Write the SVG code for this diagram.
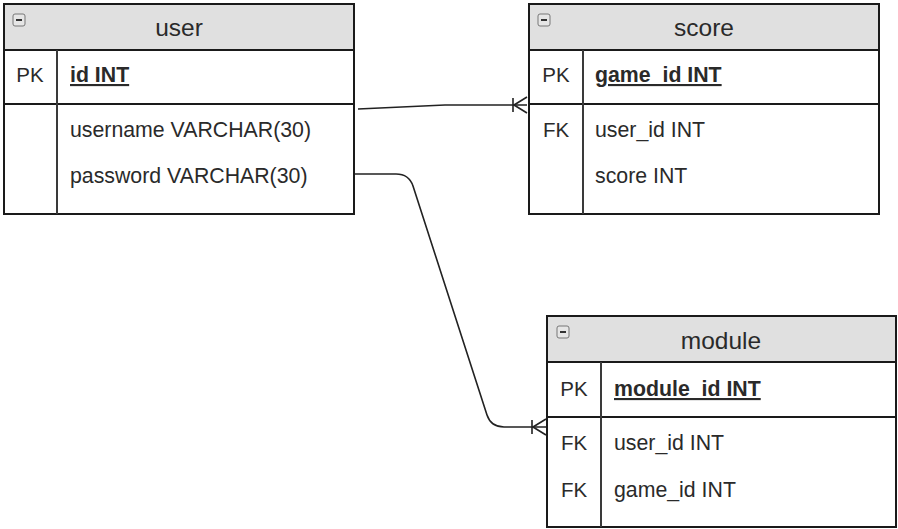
<svg xmlns="http://www.w3.org/2000/svg" width="898" height="529" viewBox="0 0 898 529">
  <style>
    .box { fill: #ffffff; stroke: #1a1a1a; stroke-width: 2; }
    .head { fill: #e0e0e0; stroke: #1a1a1a; stroke-width: 2; }
    .sep { stroke: #1a1a1a; stroke-width: 2; fill: none; }
    .col { stroke: #3a3a3a; stroke-width: 2; fill: none; }
    .title { font-family: "Liberation Sans", Arial, sans-serif; font-size: 24.5px; fill: #2a2a2a; text-anchor: middle; }
    .key { font-family: "Liberation Sans", Arial, sans-serif; font-size: 20.5px; fill: #2a2a2a; text-anchor: middle; }
    .field { font-family: "Liberation Sans", Arial, sans-serif; font-size: 21.3px; fill: #2a2a2a; }
    .pk { font-weight: bold; text-decoration: underline; }
    .icon-box { fill: #e6e6e6; stroke: #777; stroke-width: 1; }
    .icon-bar { stroke: #333; stroke-width: 2; }
    .conn { fill: none; stroke: #222; stroke-width: 1.6; marker-end: url(#crowMany); }
  </style>
  <defs>
    <!-- mandatory-many crow's foot, tip at the entity edge -->
    <marker id="crowMany" markerUnits="userSpaceOnUse" viewBox="-20 -10 22 20" markerWidth="22" markerHeight="20" refX="0" refY="0" orient="auto" overflow="visible">
      <path d="M-14,-7 V7 M-13,0 L0,-8 M-13,0 L0,8" fill="none" stroke="#222" stroke-width="1.6"/>
    </marker>
    <g id="collapse">
      <rect class="icon-box" x="0" y="0" width="12" height="12" rx="2"/>
      <line class="icon-bar" x1="3" y1="6" x2="9" y2="6"/>
    </g>
  </defs>

  <!-- connectors -->
  <g id="connectors">
    <path id="user-score" class="conn" d="M358,109 L445,105 H527"/>
    <path id="user-module" class="conn" d="M355,174 H396 Q409,174 413,186 L487,415 Q491,427 504,427 H546"/>
  </g>

  <!-- user -->
  <g id="user">
    <rect class="box" x="4" y="4" width="350" height="210"/>
    <rect class="head" x="4" y="4" width="350" height="46"/>
    <use href="#collapse" x="13" y="14"/>
    <text class="title" x="179" y="36">user</text>
    <line class="sep" x1="4" y1="104" x2="354" y2="104"/>
    <line class="col" x1="57" y1="50" x2="57" y2="214"/>
    <text class="key" x="30" y="82">PK</text>
    <text class="field pk" x="70" y="82">id INT</text>
    <text class="field" x="70" y="137">username VARCHAR(30)</text>
    <text class="field" x="70" y="183">password VARCHAR(30)</text>
  </g>

  <!-- score -->
  <g id="score">
    <rect class="box" x="529" y="4" width="350" height="210"/>
    <rect class="head" x="529" y="4" width="350" height="46"/>
    <use href="#collapse" x="538" y="14"/>
    <text class="title" x="704" y="36">score</text>
    <line class="sep" x1="529" y1="104" x2="879" y2="104"/>
    <line class="col" x1="583" y1="50" x2="583" y2="214"/>
    <text class="key" x="556" y="82">PK</text>
    <text class="field pk" x="595" y="82">game_id INT</text>
    <text class="key" x="556" y="137">FK</text>
    <text class="field" x="595" y="137">user_id INT</text>
    <text class="field" x="595" y="183">score INT</text>
  </g>

  <!-- module -->
  <g id="module">
    <rect class="box" x="547" y="316" width="349" height="211"/>
    <rect class="head" x="547" y="316" width="349" height="46"/>
    <use href="#collapse" x="557" y="326"/>
    <text class="title" x="721" y="349">module</text>
    <line class="sep" x1="547" y1="417" x2="896" y2="417"/>
    <line class="col" x1="601" y1="362" x2="601" y2="527"/>
    <text class="key" x="574" y="396">PK</text>
    <text class="field pk" x="614" y="396">module_id INT</text>
    <text class="key" x="574" y="450">FK</text>
    <text class="field" x="614" y="450">user_id INT</text>
    <text class="key" x="574" y="497">FK</text>
    <text class="field" x="614" y="497">game_id INT</text>
  </g>
</svg>
